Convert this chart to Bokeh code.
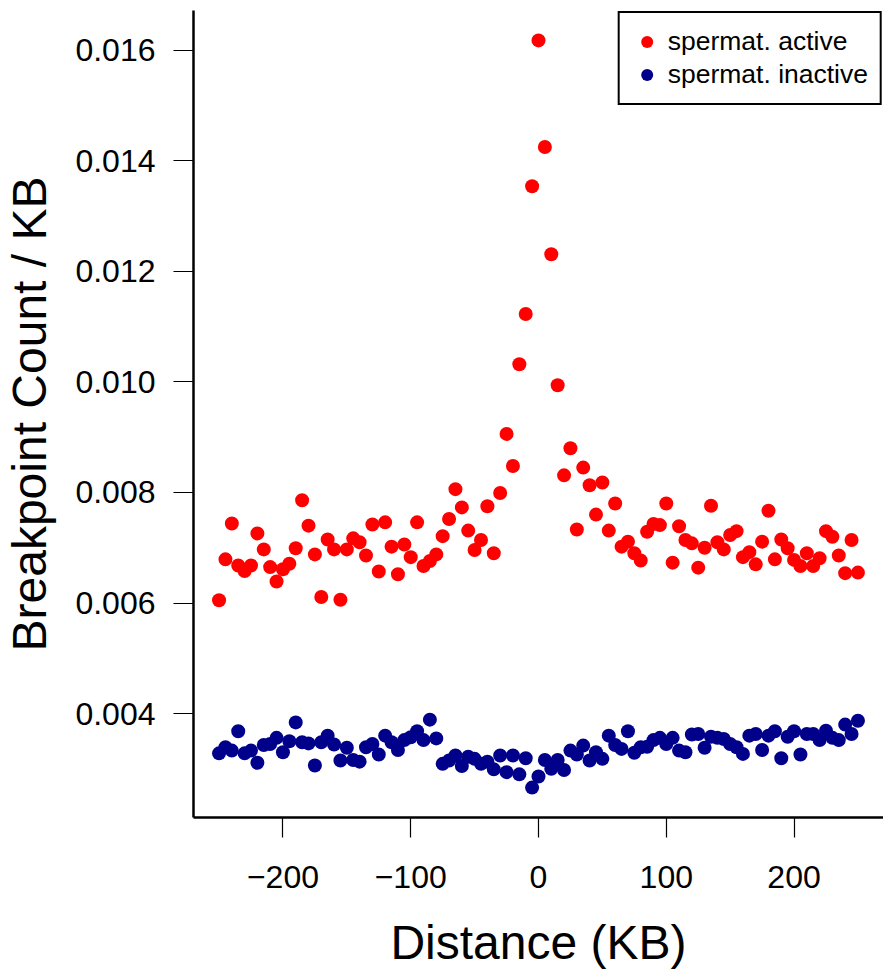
from bokeh.plotting import figure
from bokeh.models import Range1d, FixedTicker, PrintfTickFormatter, Legend, LegendItem
from bokeh.embed import file_html
from bokeh.resources import INLINE

# ---- data ----
distance_kb = [-250, -245, -240, -235, -230, -225, -220, -215, -210, -205,
               -200, -195, -190, -185, -180, -175, -170, -165, -160, -155,
               -150, -145, -140, -135, -130, -125, -120, -115, -110, -105,
               -100, -95, -90, -85, -80, -75, -70, -65, -60, -55,
               -50, -45, -40, -35, -30, -25, -20, -15, -10, -5,
               0, 5, 10, 15, 20, 25, 30, 35, 40, 45,
               50, 55, 60, 65, 70, 75, 80, 85, 90, 95,
               100, 105, 110, 115, 120, 125, 130, 135, 140, 145,
               150, 155, 160, 165, 170, 175, 180, 185, 190, 195,
               200, 205, 210, 215, 220, 225, 230, 235, 240, 245, 250]

active = [0.00605, 0.00679, 0.00744, 0.00668, 0.00658, 0.00668, 0.00726, 0.00697, 0.00665, 0.00639,
          0.00661, 0.00671, 0.00699, 0.00786, 0.00740, 0.00688, 0.00611, 0.00715, 0.00697, 0.00606,
          0.00697, 0.00717, 0.00710, 0.00686, 0.00742, 0.00657, 0.00746, 0.00702, 0.00652, 0.00706,
          0.00683, 0.00746, 0.00667, 0.00676, 0.00688, 0.00721, 0.00752, 0.00806, 0.00773, 0.00731,
          0.00696, 0.00714, 0.00775, 0.00690, 0.00799, 0.00906, 0.00848, 0.01032, 0.01123, 0.01354,
          0.01618, 0.01425, 0.01231, 0.00994, 0.00831, 0.00880, 0.00733, 0.00845, 0.00813, 0.00760,
          0.00818, 0.00731, 0.00780, 0.00702, 0.00711, 0.00690, 0.00677, 0.00729, 0.00743, 0.00741,
          0.00780, 0.00673, 0.00739, 0.00714, 0.00708, 0.00664, 0.00700, 0.00776, 0.00710, 0.00697,
          0.00723, 0.00730, 0.00683, 0.00692, 0.00670, 0.00711, 0.00767, 0.00679, 0.00715, 0.00699,
          0.00678, 0.00667, 0.00690, 0.00667, 0.00681, 0.00730, 0.00720, 0.00686, 0.00654, 0.00714, 0.00655]

inactive = [0.00328, 0.00339, 0.00333, 0.00368, 0.00328, 0.00333, 0.00311, 0.00343, 0.00345, 0.00356,
            0.00330, 0.00350, 0.00384, 0.00348, 0.00346, 0.00306, 0.00348, 0.00360, 0.00344, 0.00315,
            0.00338, 0.00316, 0.00313, 0.00339, 0.00345, 0.00326, 0.00360, 0.00348, 0.00334, 0.00352,
            0.00357, 0.00368, 0.00352, 0.00389, 0.00355, 0.00309, 0.00315, 0.00324, 0.00305, 0.00322,
            0.00318, 0.00309, 0.00313, 0.00299, 0.00324, 0.00294, 0.00324, 0.00290, 0.00319, 0.00266,
            0.00286, 0.00316, 0.00300, 0.00316, 0.00298, 0.00333, 0.00326, 0.00342, 0.00315, 0.00330,
            0.00318, 0.00360, 0.00343, 0.00336, 0.00368, 0.00329, 0.00339, 0.00340, 0.00352, 0.00356,
            0.00345, 0.00356, 0.00333, 0.00330, 0.00362, 0.00363, 0.00338, 0.00358, 0.00356, 0.00354,
            0.00345, 0.00339, 0.00327, 0.00360, 0.00363, 0.00334, 0.00360, 0.00368, 0.00319, 0.00358,
            0.00368, 0.00326, 0.00363, 0.00363, 0.00352, 0.00369, 0.00356, 0.00352, 0.00380, 0.00363, 0.00387]

series_names = ["spermat. active", "spermat. inactive"]
series_colors = ["#FF0000", "#00008B"]

x_ticks = [-200, -100, 0, 100, 200]
x_tick_labels = ["\u2212200", "\u2212100", "0", "100", "200"]
y_ticks = [0.004, 0.006, 0.008, 0.010, 0.012, 0.014, 0.016]

x_title = "Distance (KB)"
y_title = "Breakpoint Count / KB"

FONT = "Liberation Sans"

# R-style 4% range extension
xmin, xmax = min(distance_kb), max(distance_kb)
all_y = active + inactive
ymin, ymax = min(all_y), max(all_y)
xpad = 0.04 * (xmax - xmin)
ypad = 0.04 * (ymax - ymin)

p = figure(width=883, height=973, output_backend="svg", toolbar_location=None,
           x_range=Range1d(xmin - xpad, xmax + xpad),
           y_range=Range1d(ymin - ypad, ymax + ypad),
           min_border_left=191, min_border_right=0, min_border_top=10, min_border_bottom=156)

p.outline_line_color = None
p.xgrid.visible = False
p.ygrid.visible = False
p.background_fill_color = "white"
p.border_fill_color = "white"

r1 = p.scatter(distance_kb, active, size=14, fill_color=series_colors[0], line_color=None)
r2 = p.scatter(distance_kb, inactive, size=14, fill_color=series_colors[1], line_color=None)

for ax in (p.xaxis[0], p.yaxis[0]):
    ax.axis_line_color = "black"
    ax.axis_line_width = 2.5
    ax.major_tick_line_color = "black"
    ax.major_tick_line_width = 1.2
    ax.major_tick_in = 0
    ax.major_tick_out = 20
    ax.minor_tick_line_color = None
    ax.major_label_text_font = FONT
    ax.major_label_text_font_size = "32px"
    ax.major_label_text_color = "black"
    ax.axis_label_text_font = FONT
    ax.axis_label_text_font_size = "48px"
    ax.axis_label_text_font_style = "normal"
    ax.axis_label_text_color = "black"

p.xaxis[0].ticker = FixedTicker(ticks=x_ticks)
p.xaxis[0].major_label_overrides = {t: l for t, l in zip(x_ticks, x_tick_labels)}
p.xaxis[0].axis_label = x_title
p.xaxis[0].major_label_standoff = 28
p.xaxis[0].axis_label_standoff = 25

p.yaxis[0].ticker = FixedTicker(ticks=y_ticks)
p.yaxis[0].formatter = PrintfTickFormatter(format="%.3f")
p.yaxis[0].axis_label = y_title
p.yaxis[0].major_label_standoff = 18
p.yaxis[0].axis_label_standoff = 16
p.yaxis[0].major_label_orientation = "horizontal"

legend = Legend(items=[LegendItem(label=series_names[0], renderers=[r1]),
                       LegendItem(label=series_names[1], renderers=[r2])],
                location="top_right", margin=1, padding=12, spacing=0,
                glyph_width=30, glyph_height=33, label_height=33, label_standoff=6,
                label_text_font=FONT, label_text_font_size="26.5px", label_text_color="black",
                border_line_color="black", border_line_width=2, border_line_alpha=1.0,
                background_fill_color="white", background_fill_alpha=1.0)
p.add_layout(legend)

open("out.html", "w").write(file_html(p, INLINE))
